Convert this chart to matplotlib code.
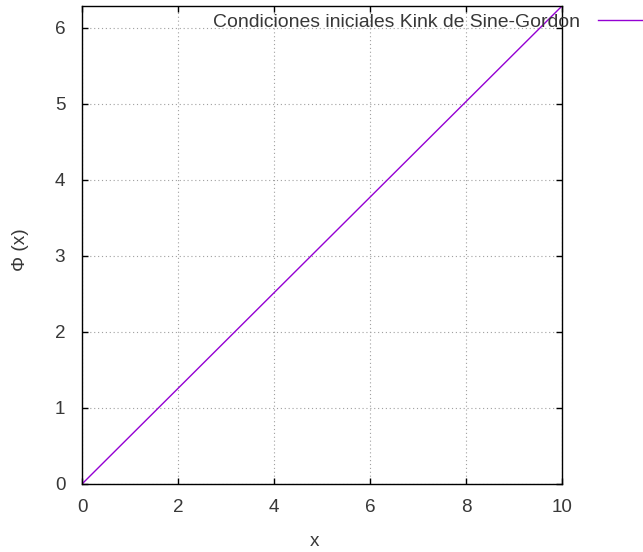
import numpy as np
import matplotlib
matplotlib.use("Agg")
import matplotlib.pyplot as plt

# datos (condicion inicial: recta de 0 a 2*pi)
x_vals = [0.0, 10.0]
phi_vals = [0.0, 6.2832]
x_ticks = [0, 2, 4, 6, 8, 10]
y_ticks = [0, 1, 2, 3, 4, 5, 6]
serie = "Condiciones iniciales Kink de Sine-Gordon"

plt.rcParams['font.family'] = ['Liberation Sans', 'DejaVu Sans']
plt.rcParams['font.size'] = 13.6
txt = '#383838'

fig = plt.figure(figsize=(6.43, 5.52), dpi=100)
ax = fig.add_axes([82/643, 1 - 484/552, (562-82)/643, (484-6)/552])

ax.plot(x_vals, phi_vals, color='#9400D3', lw=1.0, label=serie)

ax.set_xlim(0, 10)
ax.set_ylim(0, 6.2832)
ax.set_xticks(x_ticks)
ax.set_yticks(y_ticks)

ax.grid(True, color='#a0a0a0', linestyle=(0, (1, 2.5)), linewidth=0.8)
ax.set_axisbelow(True)

ax.tick_params(direction='in', length=4, width=1, top=True, right=True,
               colors='black', labelcolor=txt)
ax.tick_params(axis='y', pad=12)
ax.tick_params(axis='x', pad=11)
for s in ax.spines.values():
    s.set_linewidth(1)

ax.set_xlabel('x', color=txt, va='center')
ax.xaxis.set_label_coords((315 - 82) / 480, -(541 - 484) / 478)
ax.set_ylabel('Φ (x)', color=txt, va='center')
ax.yaxis.set_label_coords((20 - 82) / 480, 0.49)

leg = ax.legend(loc='center right', bbox_to_anchor=(1.0, 1 - 22/552),
                bbox_transform=fig.transFigure, markerfirst=False,
                frameon=False, borderpad=0, borderaxespad=0,
                fontsize=13.95, handlelength=2.3, handletextpad=0.93)
for t in leg.get_texts():
    t.set_color(txt)

fig.savefig('out.png', dpi=100)
